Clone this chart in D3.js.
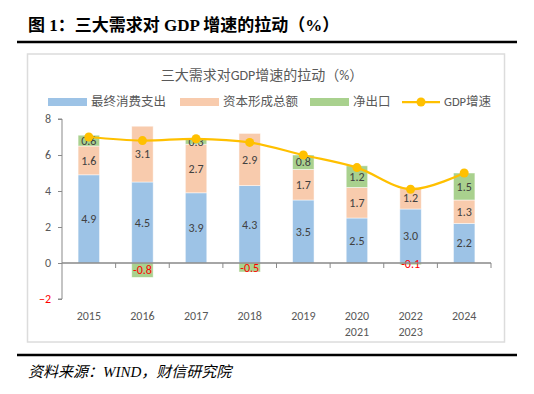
<!DOCTYPE html>
<html>
<head>
<meta charset="utf-8">
<script src="https://cdn.jsdelivr.net/npm/d3@7"></script>
<style>
  body { margin: 0; background: #fff; }
  svg text { font-family: Calibri, Carlito, "Noto Sans", "Noto Sans CJK SC", sans-serif; }
</style>
</head>
<body>
<div id="chart"></div>
<script>
// data
const categories = ["2015", "2016", "2017", "2018", "2019", "2020-2021", "2022-2023", "2024"];
const consumption = [4.9, 4.5, 3.9, 4.3, 3.5, 2.5, 3.0, 2.2];
const capital = [1.6, 3.1, 2.7, 2.9, 1.7, 1.7, 1.2, 1.3];
const netExports = [0.6, -0.8, 0.3, -0.5, 0.8, 1.2, -0.1, 1.5];
const gdpGrowth = [7.0, 6.8, 6.9, 6.7, 6.0, 5.3, 4.1, 5.0];
const yTicks = [-2, 0, 2, 4, 6, 8];

const seriesNames = ["最终消费支出", "资本形成总额", "净出口"];
const seriesKeys = ["consumption", "capital", "net"];
const colors = ["#9DC3E6", "#F8CBAD", "#A9D18E"];
const lineColor = "#FFC000";

const width = 534, height = 394;

var svg = d3.select("#chart")
    .append("svg")
    .attr("width", width)
    .attr("height", height);

// header
svg.append("text")
    .attr("x", 28)
    .attr("y", 31)
    .style("font-family", "'Liberation Serif', 'Noto Sans CJK SC', serif")
    .style("font-size", "17px")
    .style("font-weight", "bold")
    .style("fill", "#000")
    .text("图 1：三大需求对 GDP 增速的拉动（%）");

svg.append("line")
    .attr("x1", 17).attr("x2", 517)
    .attr("y1", 42).attr("y2", 42)
    .attr("stroke", "#000")
    .attr("stroke-width", 2.5);

svg.append("rect")
    .attr("x", 27.5).attr("y", 54)
    .attr("width", 477).attr("height", 288)
    .attr("fill", "#fff")
    .attr("stroke", "#dcdcdc")
    .attr("stroke-width", 1.5);

svg.append("line")
    .attr("x1", 17).attr("x2", 517)
    .attr("y1", 355).attr("y2", 355)
    .attr("stroke", "#000")
    .attr("stroke-width", 2.5);

svg.append("text")
    .attr("x", 28)
    .attr("y", 377)
    .style("font-family", "'Liberation Serif', 'Noto Sans CJK SC', serif")
    .style("font-size", "15px")
    .style("font-style", "italic")
    .style("fill", "#000")
    .text("资料来源：WIND，财信研究院");

// chart title
svg.append("text")
    .attr("x", 262)
    .attr("y", 80)
    .style("text-anchor", "middle")
    .style("font-size", "14px")
    .style("fill", "#595959")
    .text("三大需求对GDP增速的拉动（%）");

// scales
var x = d3.scaleBand()
    .domain(categories)
    .range([62, 491])
    .paddingInner(0.6)
    .paddingOuter(0.3);

var y = d3.scaleLinear()
    .domain([-2, 8])
    .range([299, 119]);

var rows = categories.map(function(c, i) {
    return {cat: c, consumption: consumption[i], capital: capital[i], net: netExports[i]};
});

var stacked = d3.stack()
    .keys(seriesKeys)
    .offset(d3.stackOffsetDiverging)(rows);

// bars
var layer = svg.selectAll(".layer")
    .data(stacked)
    .enter()
    .append("g")
    .attr("class", "layer")
    .attr("fill", function(d, i) { return colors[i]; });

layer.selectAll("rect")
    .data(function(d) { return d; })
    .enter()
    .append("rect")
    .attr("x", function(d) { return x(d.data.cat); })
    .attr("y", function(d) { return y(Math.max(d[0], d[1])); })
    .attr("width", x.bandwidth())
    .attr("height", function(d) { return Math.abs(y(d[0]) - y(d[1])); })
    .attr("stroke", "#fff")
    .attr("stroke-opacity", 0.6)
    .attr("stroke-width", 0.8);

// data labels
layer.selectAll("text")
    .data(function(d) { return d.map(function(p) { return {p: p, key: d.key}; }); })
    .enter()
    .append("text")
    .attr("x", function(d) { return x(d.p.data.cat) + x.bandwidth() / 2; })
    .attr("y", function(d) { return y((d.p[0] + d.p[1]) / 2); })
    .attr("dy", "0.35em")
    .style("text-anchor", "middle")
    .style("font-size", "12px")
    .style("fill", function(d) { return d.p.data[d.key] < 0 ? "#FF0000" : "#404040"; })
    .text(function(d) { return d.p.data[d.key].toFixed(1); });

// axes
var axisColor = "#898989";

svg.append("g")
    .attr("transform", "translate(62,0)")
    .call(d3.axisLeft(y).tickValues(yTicks).tickSize(4).tickPadding(7).tickFormat(d3.format("d")))
    .call(function(g) {
        g.select(".domain").attr("stroke", axisColor).attr("d", "M-4," + y(8) + "H0V" + y(-2) + "H-4");
        g.selectAll(".tick line").attr("stroke", axisColor);
        g.selectAll(".tick text")
            .style("font-size", "12px")
            .style("font-family", "Calibri, Carlito, 'Noto Sans', sans-serif")
            .attr("fill", function(d) { return d < 0 ? "#FF0000" : "#595959"; });
    });

svg.append("line")
    .attr("x1", 62).attr("x2", 491)
    .attr("y1", y(0)).attr("y2", y(0))
    .attr("stroke", axisColor)
    .attr("stroke-width", 1.5);

var bounds = categories.map(function(c) { return x(c) - x.step() * x.paddingInner() / 2 - x.step() * 0 ; });
var edges = categories.map(function(c, i) { return 62 + (i + 1) * x.step(); });

svg.selectAll(".xtick")
    .data(edges)
    .enter()
    .append("line")
    .attr("class", "xtick")
    .attr("x1", function(d) { return d; })
    .attr("x2", function(d) { return d; })
    .attr("y1", y(0))
    .attr("y2", y(0) + 5)
    .attr("stroke", axisColor);

var xLabels = svg.selectAll(".xlabel")
    .data(categories)
    .enter()
    .append("text")
    .attr("class", "xlabel")
    .attr("x", function(d) { return x(d) + x.bandwidth() / 2; })
    .attr("y", 320)
    .style("text-anchor", "middle")
    .style("font-size", "12px")
    .style("fill", "#595959");

xLabels.selectAll("tspan")
    .data(function(d) { return d.split("-"); })
    .enter()
    .append("tspan")
    .attr("x", function() { return d3.select(this.parentNode).attr("x"); })
    .attr("dy", function(d, i) { return i === 0 ? 0 : 16; })
    .text(function(d) { return d; });

// GDP line
var line = d3.line()
    .x(function(d, i) { return x(categories[i]) + x.bandwidth() / 2; })
    .y(function(d) { return y(d); })
    .curve(d3.curveCatmullRom.alpha(0.5));

svg.append("path")
    .datum(gdpGrowth)
    .attr("d", line)
    .attr("fill", "none")
    .attr("stroke", lineColor)
    .attr("stroke-width", 2.25);

svg.selectAll(".dot")
    .data(gdpGrowth)
    .enter()
    .append("circle")
    .attr("class", "dot")
    .attr("cx", function(d, i) { return x(categories[i]) + x.bandwidth() / 2; })
    .attr("cy", function(d) { return y(d); })
    .attr("r", 4.5)
    .attr("fill", lineColor);

// legend
var legendX = [48, 180, 310];
var legendY = 102;

seriesNames.forEach(function(name, i) {
    svg.append("rect")
        .attr("x", legendX[i])
        .attr("y", legendY - 4)
        .attr("width", 39)
        .attr("height", 8)
        .attr("fill", colors[i]);
    svg.append("text")
        .attr("x", legendX[i] + 43)
        .attr("y", legendY)
        .attr("dy", "0.35em")
        .style("font-size", "12.5px")
        .style("fill", "#595959")
        .text(name);
});

svg.append("line")
    .attr("x1", 402).attr("x2", 440)
    .attr("y1", legendY).attr("y2", legendY)
    .attr("stroke", lineColor)
    .attr("stroke-width", 2.25);

svg.append("circle")
    .attr("cx", 421).attr("cy", legendY)
    .attr("r", 4.5)
    .attr("fill", lineColor);

svg.append("text")
    .attr("x", 444)
    .attr("y", legendY)
    .attr("dy", "0.35em")
    .style("font-size", "12.5px")
    .style("fill", "#595959")
    .text("GDP增速");
</script>
</body>
</html>
